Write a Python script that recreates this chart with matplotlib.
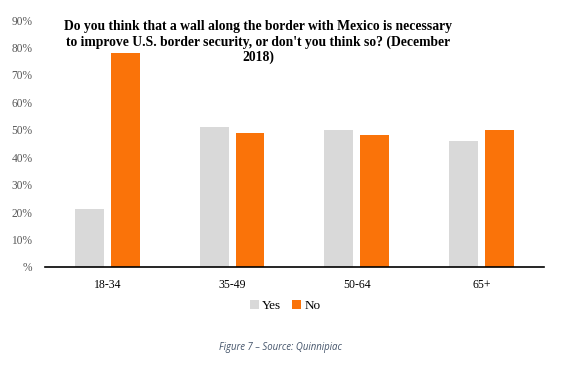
import matplotlib
matplotlib.use("Agg")
import matplotlib.pyplot as plt
import numpy as np

categories = ["18-34", "35-49", "50-64", "65+"]
yes_vals = [21, 51, 50, 46]
no_vals = [78, 49, 48, 50]
ytick_vals = [0, 10, 20, 30, 40, 50, 60, 70, 80, 90]
ytick_labels = ["%", "10%", "20%", "30%", "40%", "50%", "60%", "70%", "80%", "90%"]

title = ("Do you think that a wall along the border with Mexico is necessary\n"
         "to improve U.S. border security, or don't you think so? (December\n"
         "2018)")
caption = "Figure 7 \u2013 Source: Quinnipiac"

YES_C = "#d9d9d9"
NO_C = "#fa7309"

fig = plt.figure(figsize=(5.7, 3.67), dpi=100)
ax = fig.add_axes([0.079, 0.2725, 0.875, 0.673])

x = np.arange(len(categories))
w = 0.232
gap = 0.056
ax.bar(x - (w + gap) / 2, yes_vals, w, color=YES_C, label="Yes")
ax.bar(x + (w + gap) / 2, no_vals, w, color=NO_C, label="No")

ax.set_xlim(-0.5, len(categories) - 0.5)
ax.set_ylim(0, 90)
ax.set_yticks(ytick_vals)
ax.set_yticklabels(ytick_labels, fontfamily="Liberation Serif", fontsize=8.3, color="#595959")
ax.set_xticks(x)
ax.set_xticklabels(categories, fontfamily="Liberation Serif", fontsize=8.5, color="#000000")
ax.tick_params(axis="both", length=0)
ax.tick_params(axis="y", pad=9)
ax.tick_params(axis="x", pad=9)
for s in ["top", "right", "left"]:
    ax.spines[s].set_visible(False)
ax.spines["bottom"].set_color("black")
ax.spines["bottom"].set_linewidth(1.2)

leg = fig.legend(loc="center", bbox_to_anchor=(0.5, 0.166), ncol=2, frameon=False,
                 prop={"family": "Liberation Serif", "size": 9.5},
                 handlelength=0.7, handleheight=0.7, handletextpad=0.25, columnspacing=0.8)

fig.text(0.453, 0.945, title, ha="center", va="top", fontfamily="Liberation Serif",
         fontweight="bold", fontsize=9.8, linespacing=1.2)

fig.text(0.492, 0.052, caption, ha="center", va="center", fontfamily="Open Sans",
         fontstyle="italic", fontsize=6.9, color="#44546a")

fig.savefig("out.png", dpi=100)
